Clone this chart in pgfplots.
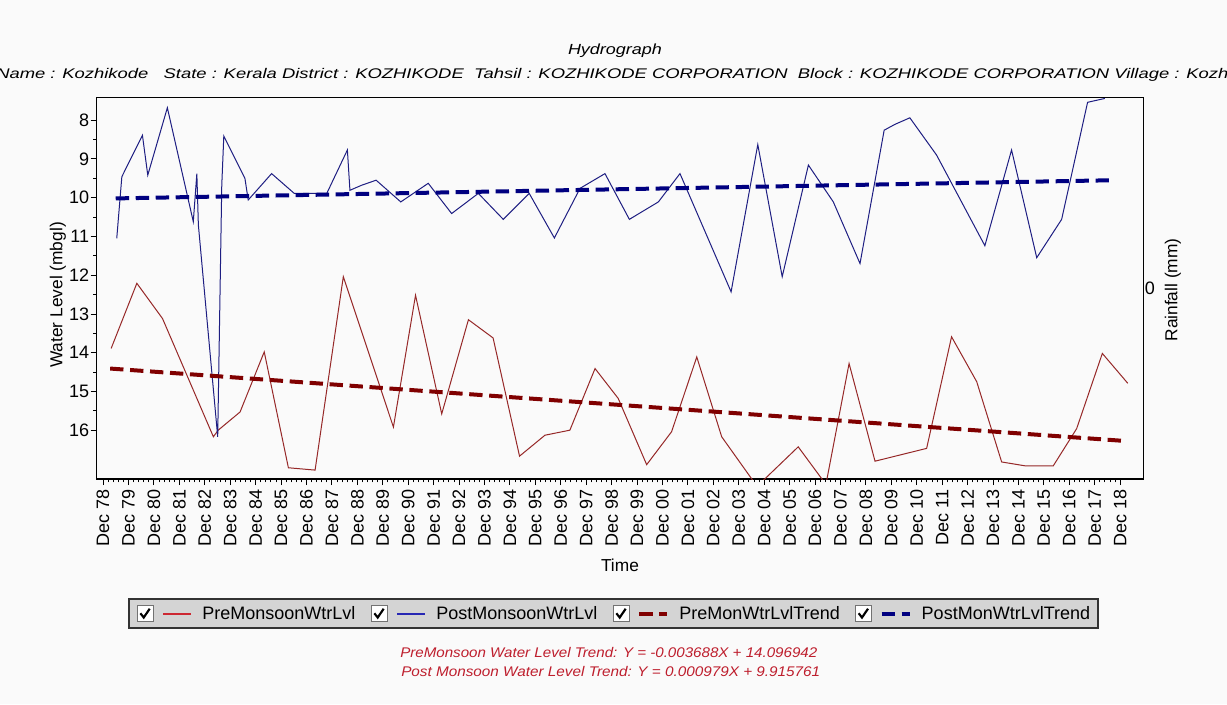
\documentclass[border=0pt]{standalone}
\usepackage{fontspec}
\setmainfont{Liberation Sans}
\usepackage{graphicx}
\usepackage{pgfplots}
\pgfplotsset{compat=1.18}
\usepackage{pgfplotstable}
\definecolor{predata}{RGB}{150,40,40}
\definecolor{postdata}{RGB}{30,30,130}
\definecolor{prelegend}{RGB}{205,40,50}
\definecolor{postlegend}{RGB}{40,40,180}
\definecolor{pretrend}{RGB}{128,0,0}
\definecolor{posttrend}{RGB}{0,0,128}
\definecolor{trendtxt}{RGB}{190,30,45}
\definecolor{legfill}{RGB}{212,212,212}
\definecolor{bg}{RGB}{250,250,250}

\newcommand{\cbox}{%
  \draw[solid, line width=0.9pt, draw=black!55, fill=white] (-19.5pt,-6pt) rectangle (-7.5pt,6pt);%
  \draw[solid, line width=1.6pt, draw=black, line join=miter] (-17.3pt,0.2pt) -- (-14.8pt,-3pt) -- (-10.3pt,3.6pt);%
}

\pgfplotstableread{
x y
78.32 13.89
79.33 12.21
80.34 13.12
82.34 16.17
82.53 16.00
83.39 15.53
84.34 13.98
85.29 16.97
86.34 17.03
87.45 12.04
89.42 15.92
90.29 12.52
91.32 15.58
92.37 13.15
93.34 13.62
94.38 16.67
95.38 16.13
96.36 16.00
97.35 14.41
98.26 15.18
99.38 16.89
100.36 16.04
101.35 14.11
102.33 16.17
103.72 17.45
105.34 16.43
106.43 17.40
107.34 14.28
108.36 16.80
110.39 16.47
111.37 13.59
112.36 14.75
113.34 16.82
114.26 16.92
115.37 16.92
116.29 15.96
117.30 14.02
118.30 14.79
}\pretable

\pgfplotstableread{
x y
78.54 11.05
78.74 9.46
79.55 8.39
79.76 9.42
80.53 7.68
81.55 10.62
81.69 9.38
81.75 10.71
82.51 16.17
82.67 9.68
82.75 8.41
83.58 9.50
83.71 10.06
84.63 9.38
85.52 9.89
86.80 9.89
87.61 8.77
87.71 9.81
88.17 9.68
88.74 9.55
89.71 10.11
90.79 9.63
91.71 10.41
92.76 9.89
93.74 10.56
94.76 9.89
95.75 11.04
96.76 9.76
97.74 9.38
98.70 10.56
99.84 10.11
100.69 9.38
102.70 12.43
103.75 8.63
104.71 12.04
105.74 9.16
106.72 10.11
107.77 11.70
108.72 8.26
109.14 8.11
109.73 7.94
110.78 8.90
112.68 11.24
113.73 8.77
114.72 11.55
115.70 10.56
116.72 7.54
117.40 7.44
}\posttable

\pgfplotstableread{
x y
78.28 14.41
118.22 16.28
}\pretrendtable

\pgfplotstableread{
x y
78.50 10.02
117.77 9.55
}\posttrendtable

\begin{document}
\begin{tikzpicture}
\fill[bg] (0,0) rectangle (920.25pt,528pt);
\begin{axis}[
  at={(72.5pt,168.75pt)}, anchor=south west,
  scale only axis, width=784.95pt, height=286.3pt,
  xmin=77.75, xmax=118.91, ymin=7.41, ymax=17.26, y dir=reverse,
  xtick={78,...,118},
  xticklabels={Dec 78,Dec 79,Dec 80,Dec 81,Dec 82,Dec 83,Dec 84,Dec 85,Dec 86,Dec 87,Dec 88,Dec 89,Dec 90,Dec 91,Dec 92,Dec 93,Dec 94,Dec 95,Dec 96,Dec 97,Dec 98,Dec 99,Dec 00,Dec 01,Dec 02,Dec 03,Dec 04,Dec 05,Dec 06,Dec 07,Dec 08,Dec 09,Dec 10,Dec 11,Dec 12,Dec 13,Dec 14,Dec 15,Dec 16,Dec 17,Dec 18},
  minor x tick num=4,
  ytick={8,...,16}, minor y tick num=1,
  tick align=outside, tick pos=left,
  major tick length=4.5pt, minor tick length=2.5pt,
  every tick/.style={black, line width=0.6pt},
  axis line style={black, line width=1.1pt},
  xticklabel style={rotate=90, anchor=east, font=\fontsize{13.5}{16}\selectfont},
  yticklabel style={font=\fontsize{13.5}{16}\selectfont, inner xsep=1pt},
  /pgf/number format/assume math mode=true,
  xlabel={Time}, ylabel={Water Level (mbgl)},
  xlabel style={at={(axis description cs:0.5,-0.2253)}, anchor=center, font=\fontsize{13}{15}\selectfont},
  ylabel style={at={(axis description cs:-0.037,0.482)}, anchor=center, font=\fontsize{13}{15}\selectfont},
  axis background/.style={fill=bg},
  legend columns=4,
  legend cell align=left,
  legend style={
    at={(0.4938,-0.3524)}, anchor=center,
    draw=black!80, line width=1.4pt, fill=legfill,
    font=\fontsize{13.5}{16}\selectfont,
    inner xsep=6pt, inner ysep=3pt,
    /tikz/every even column/.append style={column sep=11.5pt},
    /tikz/every odd column/.append style={column sep=7.5pt},
    nodes={inner xsep=0pt, inner ysep=2pt},
  },
]
\addplot[predata, line width=0.75pt,
  legend image code/.code={\cbox\draw[draw=prelegend, solid, line width=1.5pt] (0pt,0pt) -- (21pt,0pt);}]
  table {\pretable};
\addlegendentry{PreMonsoonWtrLvl}
\addplot[postdata, line width=0.75pt,
  legend image code/.code={\cbox\draw[draw=postlegend, solid, line width=1.5pt] (0pt,0pt) -- (21pt,0pt);}]
  table {\posttable};
\addlegendentry{PostMonsoonWtrLvl}
\addplot[pretrend, line width=3pt, dash pattern=on 10pt off 5pt,
  legend image code/.code={\cbox\draw[draw=pretrend, line width=3pt, dash pattern=on 10pt off 5pt] (0pt,0pt) -- (21pt,0pt);}]
  table {\pretrendtable};
\addlegendentry{PreMonWtrLvlTrend}
\addplot[posttrend, line width=3pt, dash pattern=on 10pt off 5pt,
  legend image code/.code={\cbox\draw[draw=posttrend, line width=3pt, dash pattern=on 10pt off 5pt] (0pt,0pt) -- (21pt,0pt);}]
  table {\posttrendtable};
\addlegendentry{PostMonWtrLvlTrend}
\end{axis}
\begin{axis}[
  at={(72.5pt,168.75pt)}, anchor=south west,
  scale only axis, width=784.95pt, height=286.3pt,
  xmin=77.75, xmax=118.91, ymin=-1, ymax=1,
  axis x line=none, axis y line*=right,
  ytick={0}, major tick length=0pt,
  axis line style={black, line width=1.1pt},
  yticklabel style={font=\fontsize{13.5}{16}\selectfont, inner xsep=1pt},
  /pgf/number format/assume math mode=true,
  ylabel={Rainfall (mm)},
  ylabel style={at={(axis description cs:1.0284,0.4952)}, anchor=center, font=\fontsize{13}{15}\selectfont},
]
\addplot[draw=none] coordinates {(78,0)};
\end{axis}
\node[anchor=base, inner sep=0pt, font=\fontsize{11}{13}\selectfont\itshape] at (461.25pt,486.75pt) {\resizebox{70.5pt}{\height}{Hydrograph}};
\node[anchor=base east, inner sep=0pt, font=\fontsize{10.5}{13}\selectfont\itshape] at (-3pt,469.3pt) {Site\ };
\node[anchor=base west, inner sep=0pt, font=\fontsize{10.5}{13}\selectfont\itshape] at (-3pt,469.3pt) {\resizebox{924pt}{\height}{Name : Kozhikode\ \ \ State : Kerala District : KOZHIKODE\ \ Tahsil : KOZHIKODE CORPORATION\ \ Block : KOZHIKODE CORPORATION Village : Kozh}ikode};
\node[anchor=base west, inner sep=0pt, text=trendtxt, font=\fontsize{10.5}{13}\selectfont\itshape] at (300pt,35.25pt) {\resizebox{312.75pt}{\height}{PreMonsoon Water Level Trend: Y = -0.003688X + 14.096942}};
\node[anchor=base west, inner sep=0pt, text=trendtxt, font=\fontsize{10.5}{13}\selectfont\itshape] at (300.75pt,21pt) {\resizebox{314.25pt}{\height}{Post Monsoon Water Level Trend: Y = 0.000979X + 9.915761}};
\pgfresetboundingbox
\useasboundingbox (0,0) rectangle (920.25pt,528pt);
\end{tikzpicture}
\end{document}
